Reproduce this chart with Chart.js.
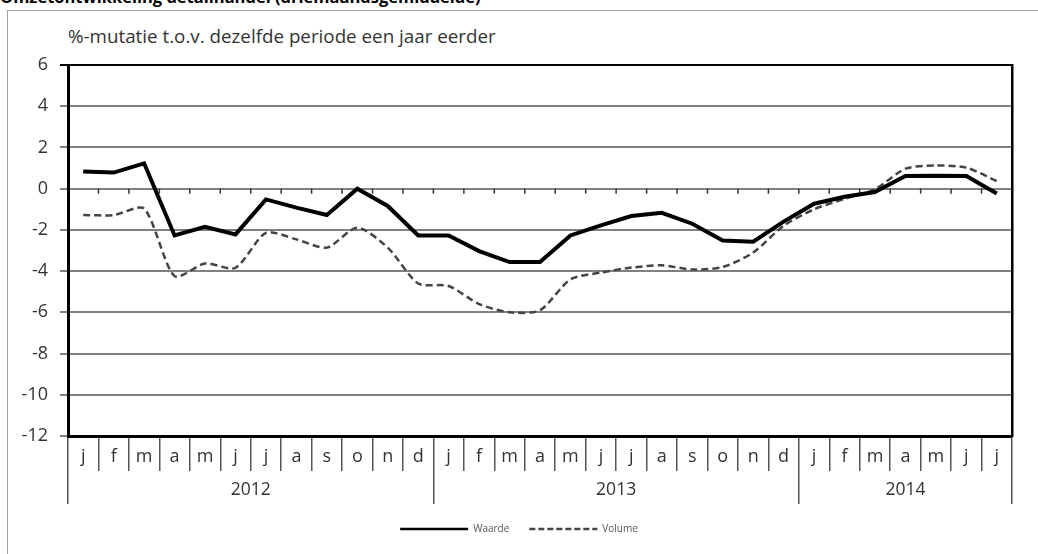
<!DOCTYPE html>
<html>
<head>
<meta charset="utf-8">
<script src="https://cdn.jsdelivr.net/npm/chart.js@4.4.1/dist/chart.umd.min.js"></script>
<style>
	html, body { margin: 0; padding: 0; background: #fff; overflow: hidden; }
	#wrap { position: relative; width: 1038px; height: 554px; overflow: hidden; }
	#frame { position: absolute; left: 7px; top: 10px; width: 1100px; height: 600px; border: 1px solid #a0a0a0; }
	#title { position: absolute; left: 0; top: -13px; font: bold 16.5px "Open Sans", sans-serif; line-height: 20px; color: #000; white-space: nowrap; }
	#subtitle { position: absolute; left: 68px; top: 26px; font: 18.8px "Open Sans", sans-serif; line-height: 20px; color: #333; white-space: nowrap; }
	canvas { position: absolute; left: 0; top: 0; }
</style>
</head>
<body>
<div id="wrap">
	<div id="frame"></div>
	<div id="title">Omzetontwikkeling detailhandel (driemaandsgemiddelde)</div>
	<div id="subtitle">%-mutatie t.o.v. dezelfde periode een jaar eerder</div>
	<canvas id="omzetChart" width="1038" height="554"></canvas>
</div>
<script>
// Months jan 2012 .. jul 2014
const monthLabels = [
	'j', 'f', 'm', 'a', 'm', 'j', 'j', 'a', 's', 'o', 'n', 'd',
	'j', 'f', 'm', 'a', 'm', 'j', 'j', 'a', 's', 'o', 'n', 'd',
	'j', 'f', 'm', 'a', 'm', 'j', 'j'
];
const years = ['2012', '2013', '2014'];
const monthsPerYear = [12, 12, 7];

const waarde = [
	0.83, 0.78, 1.23, -2.27, -1.85, -2.22, -0.52, -0.92, -1.28, 0.0, -0.84, -2.27,
	-2.27, -3.03, -3.56, -3.56, -2.27, -1.78, -1.33, -1.17, -1.7, -2.51, -2.57, -1.6,
	-0.73, -0.39, -0.16, 0.61, 0.63, 0.61, -0.23
];
const volume = [
	-1.28, -1.28, -0.97, -4.24, -3.63, -3.84, -2.14, -2.46, -2.86, -1.89, -2.86, -4.6,
	-4.72, -5.6, -6.0, -5.9, -4.4, -4.07, -3.83, -3.72, -3.92, -3.8, -3.1, -1.8,
	-1.0, -0.49, -0.03, 0.97, 1.12, 1.02, 0.37
];

const yMin = -12;
const yMax = 6;
const yStep = 2;

// year boundaries and centres on the second x axis (in month units)
const yearBounds = [0];
monthsPerYear.forEach((n, i) => yearBounds.push(yearBounds[i] + n));
const yearCentres = monthsPerYear.map((n, i) => yearBounds[i] + n / 2);
const yearTickValues = yearBounds.concat(yearCentres).sort((a, b) => a - b);

Chart.defaults.font.family = '"Open Sans", sans-serif';
Chart.defaults.color = '#333';

// small tick marks on the 0-line between months
const zeroTicks = {
	id: 'zeroTicks',
	beforeDatasetsDraw(chart) {
		const xs = chart.scales.x;
		const ys = chart.scales.y;
		const y0 = ys.getPixelForValue(0);
		const ctx = chart.ctx;
		ctx.save();
		ctx.strokeStyle = '#333';
		ctx.lineWidth = 1.5;
		for (let i = 1; i < monthLabels.length; i++) {
			const px = (xs.getPixelForValue(i - 1) + xs.getPixelForValue(i)) / 2;
			ctx.beginPath();
			ctx.moveTo(px, y0);
			ctx.lineTo(px, y0 + 5);
			ctx.stroke();
		}
		ctx.restore();
	}
};

const ctx = document.getElementById('omzetChart').getContext('2d');
new Chart(ctx, {
	type: 'line',
	data: {
		labels: monthLabels,
		datasets: [
			{
				label: 'Waarde',
				data: waarde,
				borderColor: '#000',
				backgroundColor: '#000',
				borderWidth: 4,
				pointRadius: 0,
				tension: 0,
			},
			{
				label: 'Volume',
				data: volume,
				borderColor: '#444',
				backgroundColor: '#444',
				borderWidth: 2.5,
				borderDash: [7, 4],
				pointRadius: 0,
				tension: 0.25,
			},
		],
	},
	options: {
		responsive: false,
		animation: false,
		layout: { padding: { top: 65, left: 0, right: 0, bottom: 10 } },
		plugins: {
			tooltip: { enabled: false },
			legend: {
				position: 'bottom',
				labels: {
					usePointStyle: true,
					pointStyle: 'line',
					pointStyleWidth: 68,
					padding: 20,
					color: '#555',
					font: { size: 10 },
					generateLabels(chart) {
						const items = Chart.defaults.plugins.legend.labels.generateLabels(chart);
						items.forEach((it) => {
							const ds = chart.data.datasets[it.datasetIndex];
							it.lineWidth = 2.5;
							it.strokeStyle = ds.borderColor;
							it.lineDash = ds.borderDash ? [6, 3] : [];
						});
						return items;
					},
				},
			},
		},
		scales: {
			x: {
				type: 'category',
				position: 'bottom',
				weight: 0,
				offset: true,
				grid: {
					offset: true,
					drawOnChartArea: false,
					tickLength: 35,
					color: '#555',
					lineWidth: 1.5,
				},
				border: { display: true, color: '#000', width: 3 },
				ticks: {
					autoSkip: false,
					maxRotation: 0,
					padding: -25,
					font: { size: 18 },
				},
				afterFit(scale) { scale.height = 35; },
			},
			x2: {
				type: 'linear',
				position: 'bottom',
				weight: 1,
				min: 0,
				max: monthLabels.length,
				afterBuildTicks(scale) {
					scale.ticks = yearTickValues.map((v) => ({ value: v }));
				},
				grid: {
					drawOnChartArea: false,
					tickLength: 33,
					lineWidth: 1.5,
					color: (c) => (c.tick && yearBounds.includes(c.tick.value) ? '#555' : 'rgba(0,0,0,0)'),
				},
				border: { display: false },
				ticks: {
					autoSkip: false,
					maxRotation: 0,
					padding: -24,
					font: { size: 17.5 },
					callback: (value) => {
						const i = yearCentres.indexOf(value);
						return i >= 0 ? years[i] : '';
					},
				},
				afterFit(scale) { scale.height = 33; },
			},
			y: {
				type: 'linear',
				position: 'left',
				min: yMin,
				max: yMax,
				ticks: { stepSize: yStep, padding: 12, font: { size: 18 } },
				grid: {
					tickLength: 8,
					lineWidth: 2,
					color: (c) => (c.tick && c.tick.value === yMax ? '#000' : '#808080'),
				},
				border: { display: true, color: '#000', width: 3 },
				afterFit(scale) { scale.width = 68; },
			},
			y2: {
				type: 'linear',
				position: 'right',
				min: yMin,
				max: yMax,
				ticks: { display: false },
				grid: { drawOnChartArea: false, drawTicks: false },
				border: { display: true, color: '#000', width: 2.5 },
				afterFit(scale) { scale.width = 26; },
			},
		},
	},
	plugins: [zeroTicks],
});
</script>
</body>
</html>
